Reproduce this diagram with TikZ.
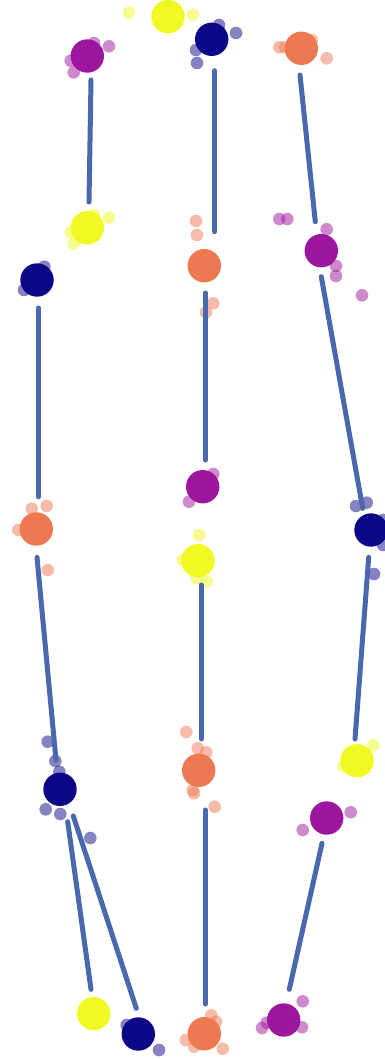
\documentclass[tikz,border=0pt]{standalone}
\usetikzlibrary{calc}
\definecolor{cnavy}{HTML}{0D0887}
\definecolor{cpurp}{HTML}{9C179E}
\definecolor{corng}{HTML}{ED7953}
\definecolor{cyell}{HTML}{F0F921}
\definecolor{cline}{HTML}{4A68AE}
\tikzset{
  big/.style={circle,inner sep=0pt,minimum size=33.4pt,draw=none},
  sm/.style={fill opacity=0.5},
  edge/.style={draw=cline,line width=5pt,line cap=round},
}
\begin{document}
\begin{tikzpicture}[x=1pt,y=-1pt]
\useasboundingbox (0,0) rectangle (385,1059);
% satellites
\foreach \p in {(129,12.7),(193,14.7)} \fill[sm,cyell] \p circle (6.3);
\foreach \p in {(219,25),(236,33),(196,50),(197,63)} \fill[sm,cnavy] \p circle (6.3);
\foreach \p in {(109,46.3),(94,43),(70.7,60.7),(73.7,72.3)} \fill[sm,cpurp] \p circle (6.3);
\foreach \p in {(279.3,47.3),(285,47.3),(311.7,40),(326.7,58.3)} \fill[sm,corng] \p circle (6.3);
\foreach \p in {(109,217.7),(70.7,232.3),(73.7,243.7),(94,215)} \fill[sm,cyell] \p circle (6.3);
\foreach \p in {(196,221),(197,235),(213.3,303.3),(206,312.3)} \fill[sm,corng] \p circle (6.3);
\foreach \p in {(279.3,219),(287.3,219),(326.7,229.3),(336,266),(336,276),(362,295.3)} \fill[sm,cpurp] \p circle (6.3);
\foreach \p in {(44.3,266.7),(24,290)} \fill[sm,cnavy] \p circle (6.3);
\foreach \p in {(213.3,474),(189,501.7)} \fill[sm,cpurp] \p circle (6.3);
\foreach \p in {(31.7,508.7),(46.7,506),(18.3,530),(47.7,570)} \fill[sm,corng] \p circle (6.3);
\foreach \p in {(356,506),(366.7,502.7),(383,520),(383,545),(374,574)} \fill[sm,cnavy] \p circle (6.3);
\foreach \p in {(199,535),(206.7,581.7),(196.7,578.3),(182.7,560)} \fill[sm,cyell] \p circle (6.3);
\foreach \p in {(47.7,741.7),(55.3,761),(59.3,771.7),(45.7,809.3),(60.3,814),(90.3,838)} \fill[sm,cnavy] \p circle (6.3);
\foreach \p in {(186.3,732),(197.7,748.3),(206.3,752.3),(192.7,790),(194,793.3),(214.7,806.7)} \fill[sm,corng] \p circle (6.3);
\foreach \p in {(373.3,745.3),(343.3,766.7)} \fill[sm,cyell] \p circle (6.3);
\foreach \p in {(350.7,812.3),(302.7,830)} \fill[sm,cpurp] \p circle (6.3);
\foreach \p in {(126.7,1025),(159,1050)} \fill[sm,cnavy] \p circle (6.3);
\foreach \p in {(211.3,1015.3),(216,1021.7),(185.7,1040),(194.3,1046.7),(222.7,1048.7)} \fill[sm,corng] \p circle (6.3);
\foreach \p in {(302.7,1001.3),(262,1028),(266.7,1022.7),(302,1027.3)} \fill[sm,cpurp] \p circle (6.3);
% main nodes
\node[big,fill=cyell] (n1) at (168,16.7) {};
\node[big,fill=cnavy] (n2) at (211.7,39.3) {};
\node[big,fill=cpurp] (n3) at (87.3,56) {};
\node[big,fill=corng] (n4) at (301.3,48.3) {};
\node[big,fill=cyell] (n5) at (87.3,227.7) {};
\node[big,fill=corng] (n6) at (204.3,265.7) {};
\node[big,fill=cpurp] (n7) at (321.3,250.7) {};
\node[big,fill=cnavy] (n8) at (37,280) {};
\node[big,fill=cpurp] (n9) at (202.7,486.7) {};
\node[big,fill=corng] (n10) at (36.3,529) {};
\node[big,fill=cnavy] (n11) at (371,530) {};
\node[big,fill=cyell] (n12) at (198,560.7) {};
\node[big,fill=cnavy] (n13) at (60,789.3) {};
\node[big,fill=corng] (n14) at (198.7,770.3) {};
\node[big,fill=cyell] (n15) at (357,760.7) {};
\node[big,fill=cpurp] (n16) at (326.7,818) {};
\node[big,fill=cyell] (n17) at (93.7,1013.7) {};
\node[big,fill=cnavy] (n18) at (138.3,1034) {};
\node[big,fill=corng] (n19) at (204.3,1033.7) {};
\node[big,fill=cpurp] (n20) at (283.7,1020) {};
% connectors
\draw[edge] ($(n3)+(3.7,24)$) -- ($(n5)+(1.7,-25.7)$);
\draw[edge] ($(n2)+(2.6,31.4)$) -- ($(n6)+(10,-34)$);
\draw[edge] ($(n4)+(-1.3,26.7)$) -- ($(n7)+(-6,-29)$);
\draw[edge] ($(n8)+(1.3,28)$) -- ($(n10)+(2,-32.3)$);
\draw[edge] ($(n6)+(1,27.3)$) -- ($(n9)+(2.6,-26.7)$);
\draw[edge] ($(n7)+(0,26)$) -- ($(n11)+(-8.3,-21.7)$);
\draw[edge] ($(n10)+(0.7,28.3)$) -- ($(n13)+(-4,-29.3)$);
\draw[edge] ($(n12)+(3,24.3)$) -- ($(n14)+(2.3,-31.3)$);
\draw[edge] ($(n11)+(-2.3,27.3)$) -- ($(n15)+(-2,-21.7)$);
\draw[edge] ($(n13)+(7.7,32.4)$) -- ($(n17)+(-2.7,-24.4)$);
\draw[edge] ($(n13)+(13.3,26.7)$) -- ($(n18)+(-2,-25.7)$);
\draw[edge] ($(n14)+(6.6,39.7)$) -- ($(n19)+(1,-29.7)$);
\draw[edge] ($(n16)+(-4.7,25.3)$) -- ($(n20)+(5.6,-30.7)$);
\end{tikzpicture}
\end{document}
